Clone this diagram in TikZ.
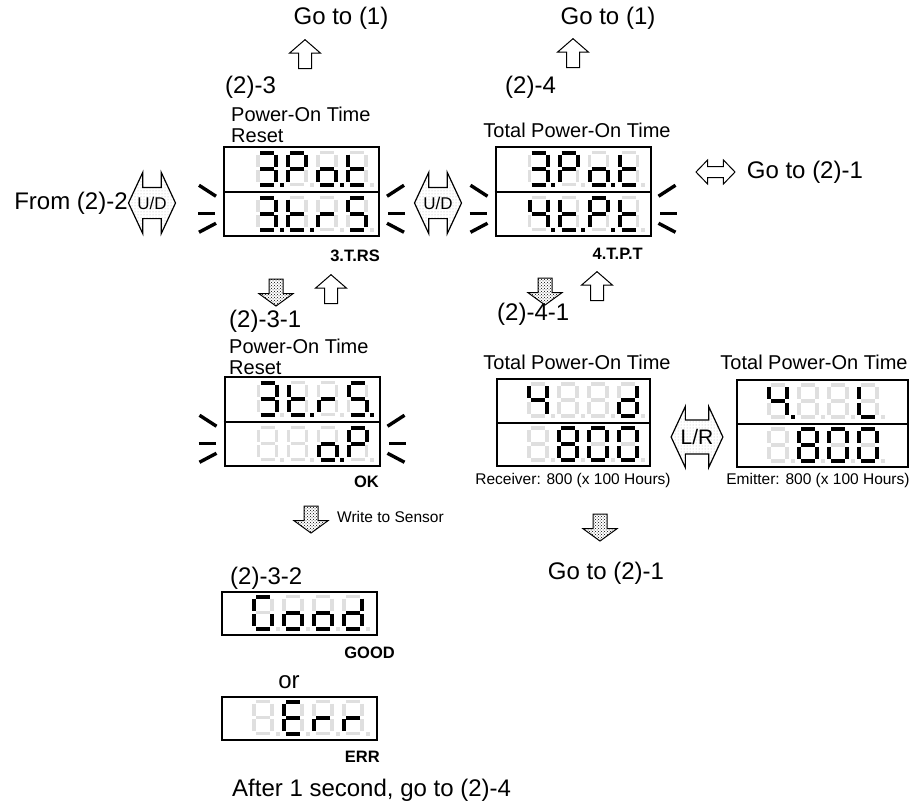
\documentclass[tikz,border=0pt]{standalone}
\usepackage{fontspec}
\setmainfont{Liberation Sans}
\usetikzlibrary{shapes.arrows, patterns, calc, positioning}

\newcommand{\hugetxt}{\fontsize{24}{26}\selectfont}
\newcommand{\midtxt}{\fontsize{20}{20.5}\selectfont}
\newcommand{\smalltxt}{\fontsize{15.5}{17}\selectfont}
\newcommand{\codetxt}{\fontsize{16.5}{18}\selectfont\bfseries}

\newcommand{\defseg}[2]{\expandafter\def\csname seg@#1\endcsname{#2}}
\newcommand{\defglyph}[2]{\expandafter\def\csname glyph@#1\endcsname{#2}}
\defseg{a}{(4,2) -- (18,2)}
\defseg{b}{(20,4.2) -- (20,16.2)}
\defseg{c}{(20,19.8) -- (20,31.8)}
\defseg{d}{(4,34) -- (18,34)}
\defseg{e}{(2,19.8) -- (2,31.8)}
\defseg{f}{(2,4.2) -- (2,16.2)}
\defseg{g}{(4,18) -- (18,18)}
\defseg{z}{}
\defglyph{0}{a,b,c,d,e,f}
\defglyph{3}{a,b,c,d,g}
\defglyph{4}{b,c,f,g}
\defglyph{8}{a,b,c,d,e,f,g}
\defglyph{P}{a,b,e,f,g}
\defglyph{o}{c,d,e,g}
\defglyph{t}{d,e,f,g}
\defglyph{r}{e,g}
\defglyph{S}{a,c,d,f,g}
\defglyph{d}{b,c,d,e,g}
\defglyph{L}{d,e,f}
\defglyph{G}{a,c,d,e,f}
\defglyph{E}{a,d,e,f,g}
\defglyph{x}{z}

\newcommand{\lcdrow}[2]{%
  \foreach \gl/\dpon [count=\idx from 0] in {#2}{%
    \begin{scope}[shift={#1}, xshift=\idx*30]
      \foreach \s in {a,b,c,d,e,f,g}{\draw[segoff] \csname seg@\s\endcsname;}
      \expandafter\let\expandafter\litlist\csname glyph@\gl\endcsname
      \foreach \s in \litlist{\draw[segon] \csname seg@\s\endcsname;}
      \ifnum\dpon=1 \fill (23.5,32.2) rectangle (27.5,36.2);
      \else \fill[gray!25] (23.5,32.2) rectangle (27.5,36.2); \fi
    \end{scope}}}

\newcommand{\blinkmarks}[1]{%
  \coordinate (#1-bl) at ($(#1.west)!0.5!(#1.south west)$);
  \coordinate (#1-br) at ($(#1.east)!0.5!(#1.south east)$);
  \draw[blink] ($(#1-bl)+(-24,-29)$) -- ++(17,11);
  \draw[blink] ($(#1-bl)+(-25,-1)$) -- ++(17,0);
  \draw[blink] ($(#1-bl)+(-24,18)$) -- ++(17,-9);
  \draw[blink] ($(#1-br)+(24,-29)$) -- ++(-17,11);
  \draw[blink] ($(#1-br)+(25,-1)$) -- ++(-17,0);
  \draw[blink] ($(#1-br)+(24,18)$) -- ++(-17,-9);}

\tikzset{
  lcdbox/.style={draw, line width=2, minimum width=155, minimum height=89, inner sep=0},
  segon/.style={line width=4},
  segoff/.style={draw=gray!25, line width=3.4},
  blink/.style={line width=3.4},
  lbl/.style={font=\hugetxt, inner sep=0},
  midlbl/.style={font=\midtxt, inner sep=0},
  smalllbl/.style={font=\smalltxt, inner sep=0},
  code/.style={font=\codetxt, inner sep=0},
  uparrow/.style={single arrow, draw, line width=1, fill=white, rotate=90, minimum height=29,
    single arrow head extend=9, single arrow tip angle=98, inner xsep=0, inner ysep=6},
  downarrow/.style={single arrow, draw, line width=1, pattern=crosshatch dots, rotate=-90, minimum height=27,
    single arrow head extend=10, single arrow tip angle=108, inner xsep=0, inner ysep=6.5},
  udarrow/.style={double arrow, draw, line width=1.2, pattern=dots, pattern color=gray!60,
    font=\fontsize{17}{17}\selectfont, text height=12, text depth=0, inner xsep=1, inner ysep=9,
    double arrow head extend=15, double arrow tip angle=130},
  lrarrow/.style={udarrow, font=\fontsize{21}{21}\selectfont, text height=15.5, inner ysep=8.7,
    double arrow head extend=13.5},
  swaparrow/.style={double arrow, draw, line width=1, fill=white, minimum height=39, inner xsep=8.5,
    inner ysep=5, double arrow head extend=6.5, double arrow tip angle=92}
}

\begin{document}
\begin{tikzpicture}[x=1pt, y=-1pt]
  \useasboundingbox (0,0) rectangle (924,806);

  \node[lbl] (goA) at (341,18) {Go to (1)};
  \node[uparrow] (upA) at (305,57) {};
  \node[lbl, anchor=west] (labA) at (225,87) {(2)-3};
  \node[midlbl, anchor=west, align=left] (capA) at (231,125) {Power-On Time\\Reset};
  \node[lcdbox] (dispA) at (301.5,191.5) {};
  \draw[line width=2] (dispA.west) -- (dispA.east);
  \lcdrow{($(dispA.north west)+(33,4.5)$)}{3/1,P/0,o/1,t/0}
  \lcdrow{($(dispA.west)+(33,4)$)}{3/1,t/1,r/0,S/0}
  \blinkmarks{dispA}
  \node[code, anchor=east] (codeA) at (380,256) {3.T.RS};
  \node[udarrow] (udL) at (152,203) {U/D};
  \node[lbl, anchor=east] (fromA) at (udL.west) {From (2)-2};
  \node[udarrow] (udM) at (438,203) {U/D};

  \node[lbl] (goB) at (608,18) {Go to (1)};
  \node[uparrow] (upB) at (573,56) {};
  \node[lbl, anchor=west] (labB) at (505,87) {(2)-4};
  \node[midlbl] (capB) at (577,130) {Total Power-On Time};
  \node[lcdbox] (dispB) at (573,191.5) {};
  \draw[line width=2] (dispB.west) -- (dispB.east);
  \lcdrow{($(dispB.north west)+(33,4.5)$)}{3/1,P/0,o/1,t/0}
  \lcdrow{($(dispB.west)+(33,4)$)}{4/1,t/1,P/1,t/0}
  \blinkmarks{dispB}
  \node[code, anchor=east] (codeB) at (643,254) {4.T.P.T};
  \node[swaparrow] (swap) at (715.5,172) {};
  \node[lbl, right=11pt of swap] (goC) {Go to (2)-1};

  \node[downarrow] (dnA) at (276,290) {};
  \node[uparrow] (upC) at (331,292) {};
  \node[lbl, anchor=west] (labC) at (229,321) {(2)-3-1};
  \node[midlbl, anchor=west, align=left] (capC) at (229,357) {Power-On Time\\Reset};
  \node[lcdbox] (dispC) at (302,421.5) {};
  \draw[line width=2] (dispC.west) -- (dispC.east);
  \lcdrow{($(dispC.north west)+(33,4.5)$)}{3/0,t/1,r/0,S/1}
  \lcdrow{($(dispC.west)+(33,4)$)}{x/0,x/0,o/1,P/0}
  \blinkmarks{dispC}
  \node[code, anchor=east] (codeC) at (379,482) {OK};

  \node[downarrow] (dnB) at (545,289) {};
  \node[uparrow] (upD) at (597,289) {};
  \node[lbl, anchor=west] (labD) at (497,314) {(2)-4-1};
  \node[midlbl] (capD) at (577,362) {Total Power-On Time};
  \node[lcdbox, minimum width=153, minimum height=87] (dispD) at (573.5,422.5) {};
  \draw[line width=2] (dispD.west) -- (dispD.east);
  \lcdrow{($(dispD.north west)+(31,4)$)}{4/0,x/0,x/0,d/0}
  \lcdrow{($(dispD.west)+(31,3.5)$)}{x/0,8/0,0/0,0/0}
  \node[smalllbl] (noteD) at (573,480) {Receiver: 800 (x 100 Hours)};
  \node[lrarrow] (lr) at (697,437) {L/R};
  \node[midlbl] (capE) at (814,362) {Total Power-On Time};
  \node[lcdbox, minimum width=171, minimum height=87] (dispE) at (822.5,423.5) {};
  \draw[line width=2] (dispE.west) -- (dispE.east);
  \lcdrow{($(dispE.north west)+(31,4)$)}{4/1,x/0,x/0,L/0}
  \lcdrow{($(dispE.west)+(31,3.5)$)}{x/0,8/0,0/0,0/0}
  \node[smalllbl] (noteE) at (818,480) {Emitter: 800 (x 100 Hours)};
  \node[downarrow] (dnD) at (600,525) {};
  \node[lbl] (goD) at (606,573) {Go to (2)-1};

  \node[downarrow] (dnC) at (311,517) {};
  \node[smalllbl, anchor=west] (write) at (337,517) {Write to Sensor};
  \node[lbl, anchor=west] (labF) at (230,578) {(2)-3-2};
  \node[lcdbox, minimum height=43] (dispF) at (299.5,613.5) {};
  \lcdrow{($(dispF.north west)+(31,3.5)$)}{G/0,o/0,o/0,d/0}
  \node[code, anchor=east] (codeF) at (395,653) {GOOD};
  \node[lbl] (orG) at (289,682) {or};
  \node[lcdbox, minimum height=43] (dispG) at (299.5,718.5) {};
  \lcdrow{($(dispG.north west)+(31,3.5)$)}{x/0,E/0,r/0,r/0}
  \node[code, anchor=east] (codeG) at (380,757) {ERR};
  \node[lbl, anchor=west] (after) at (232,790) {After 1 second, go to (2)-4};
\end{tikzpicture}
\end{document}
